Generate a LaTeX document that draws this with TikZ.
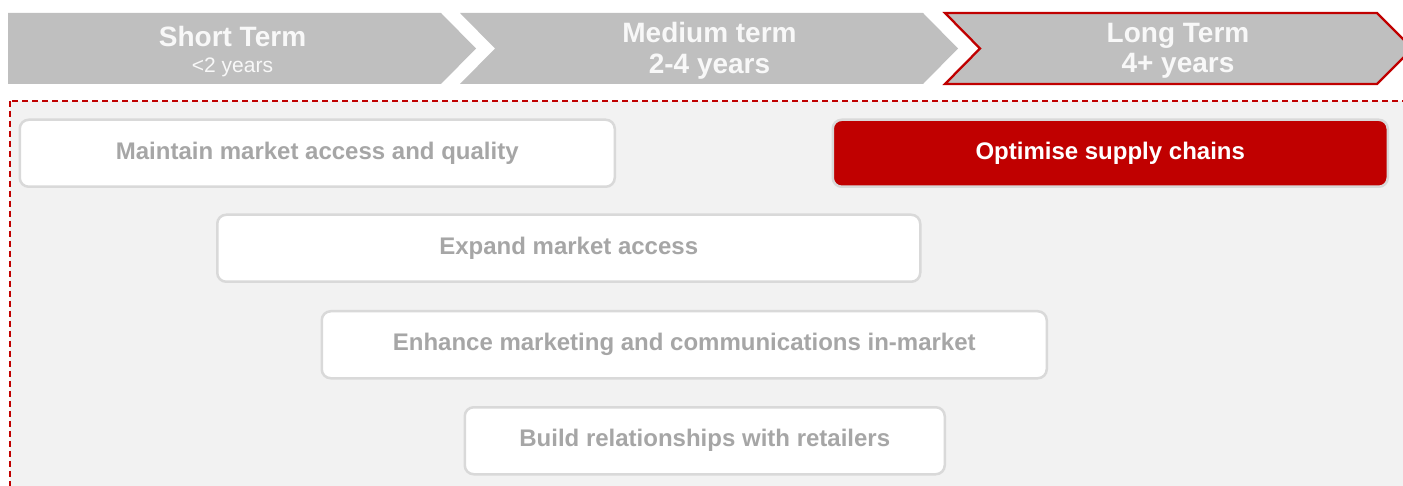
\documentclass[tikz,border=0pt]{standalone}
\usepackage{fontspec}
\setmainfont{Liberation Sans}
\definecolor{chev}{HTML}{BFBFBF}
\definecolor{kred}{HTML}{C00000}
\definecolor{panel}{HTML}{F2F2F2}
\definecolor{boxline}{HTML}{D9D9D9}
\definecolor{boxtext}{HTML}{A6A6A6}
\definecolor{headtext}{HTML}{F8F8F8}
\tikzset{
  chevron/.style={fill=chev},
  headbold/.style={text=headtext,font=\fontsize{28}{30}\selectfont\bfseries,anchor=base,inner sep=0},
  headlight/.style={text=headtext,font=\fontsize{21}{24}\selectfont,anchor=base,inner sep=0},
  actbox/.style={draw=boxline,line width=2.5pt,fill=white,rounded corners=9pt,text=boxtext,
    font=\fontsize{24}{26}\selectfont\bfseries,inner sep=0,anchor=north west},
  redbox/.style={actbox,fill=kred,text=white}
}
\begin{document}
\begin{tikzpicture}[x=1pt,y=-1pt]
\useasboundingbox (0,0) rectangle (1403,486);
\clip (0,0) rectangle (1403,486);
% panel
\draw[kred,line width=2pt,dash pattern=on 6pt off 4pt,fill=panel] (10,101) rectangle (1420,500);
% chevrons
\fill[chevron] (8,13) -- (441,13) -- (476,48.5) -- (441,84) -- (8,84) -- cycle;
\fill[chevron] (460,13) -- (923,13) -- (958,48.5) -- (923,84) -- (460,84) -- (495,48.5) -- cycle;
\draw[chevron,draw=kred,line width=2.3pt] (945,13) -- (1377,13) -- (1412.5,48.5) -- (1377,84) -- (945,84) -- (980,48.5) -- cycle;
% header texts
\node[headbold] (st) at (232.5,47) {Short Term};
\node[headlight] (sty) at (232.5,73) {<2 years};
\node[headbold] (mt) at (709.5,43) {Medium term};
\node[headbold] (mty) at (709.5,74) {2-4 years};
\node[headbold] (lt) at (1178,43) {Long Term};
\node[headbold] (lty) at (1178,73) {4+ years};
% action boxes
\node[actbox,minimum width=595pt,minimum height=67pt] (b1) at (18.5,118.5) {Maintain market access and quality};
\node[redbox,minimum width=555pt,minimum height=67pt] (b2) at (831.5,118.5) {Optimise supply chains};
\node[actbox,minimum width=703pt,minimum height=67pt] (b3) at (216,213.5) {Expand market access};
\node[actbox,minimum width=725pt,minimum height=67pt] (b4) at (320.5,310) {Enhance marketing and communications in-market};
\node[actbox,minimum width=480pt,minimum height=67pt] (b5) at (463.5,406) {Build relationships with retailers};
\end{tikzpicture}
\end{document}
